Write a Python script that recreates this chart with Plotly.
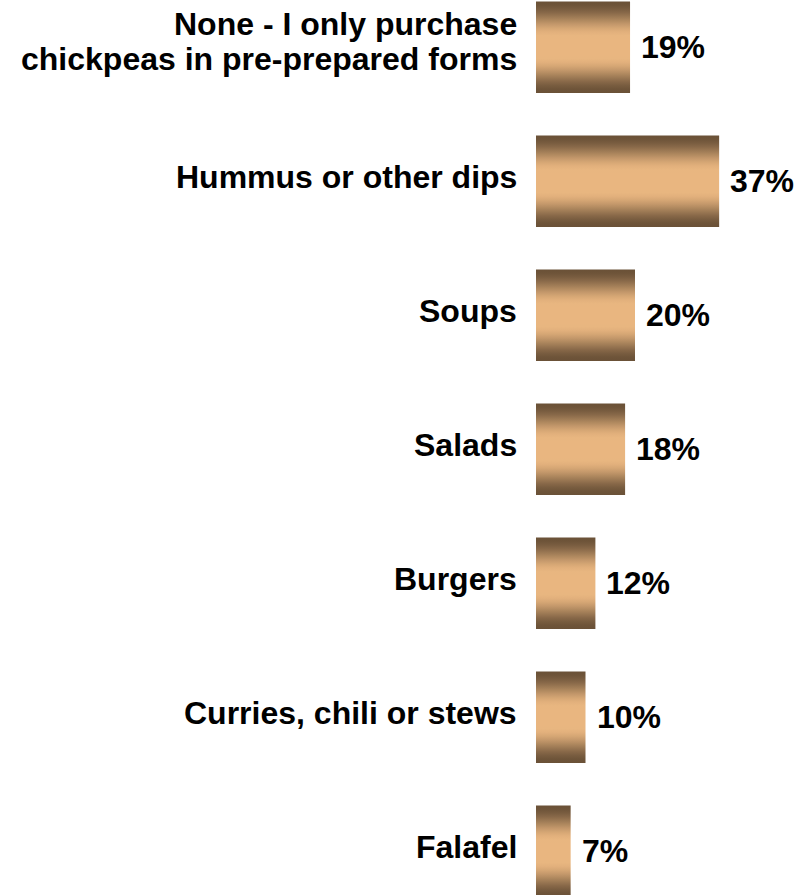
import plotly.graph_objects as go

categories = [
    ["None - I only purchase", "chickpeas in pre-prepared forms"],
    ["Hummus or other dips"],
    ["Soups"],
    ["Salads"],
    ["Burgers"],
    ["Curries, chili or stews"],
    ["Falafel"],
]
values = [19, 37, 20, 18, 12, 10, 7]
value_labels = ["19%", "37%", "20%", "18%", "12%", "10%", "7%"]

DARK = (106, 81, 55)
LIGHT = (233, 182, 128)
BAR_WIDTH = 0.683
FONT = "Liberation Sans, Arial, sans-serif"
FS = 32

positions = list(range(len(categories)))


def bevel_scale(steps=12, plateau=0.78):
    """Vertical colorscale: dark at both edges, light across the middle."""
    stops = []
    for i in range(steps + 1):
        frac = i / steps                     # distance from edge, 0..1 of half
        t = min(1.0, frac / plateau)
        t = t * t * (3 - 2 * t)
        col = "rgb(%d,%d,%d)" % tuple(round(d + (l - d) * t) for d, l in zip(DARK, LIGHT))
        stops.append((frac / 2, col))
    stops += [(1 - p, c) for p, c in reversed(stops[:-1])]
    return [[p, c] for p, c in stops]


SCALE = bevel_scale()

fig = go.Figure()

# each bar is a filled rectangle spanning 0..value with a vertical bevel gradient
for pos, val in zip(positions, values):
    lo, hi = pos - BAR_WIDTH / 2, pos + BAR_WIDTH / 2
    fig.add_trace(go.Scatter(
        x=[0, val, val, 0, 0],
        y=[lo, lo, hi, hi, lo],
        mode="lines",
        line=dict(width=0, color="rgba(0,0,0,0)"),
        fill="toself",
        fillgradient=dict(type="vertical", colorscale=SCALE, start=lo, stop=hi),
        hoverinfo="skip",
        showlegend=False,
    ))

text_font = dict(family=FONT, size=FS, color="black", weight="bold")

# value labels to the right of each bar
for pos, val, lab in zip(positions, values, value_labels):
    fig.add_annotation(
        x=val, y=pos, text=lab, showarrow=False,
        xanchor="left", yanchor="middle", xshift=9, yshift=0,
        font=text_font,
    )

# category labels, right-aligned against the bars, tight line spacing
LINE_GAP = 35
for pos, lines in zip(positions, categories):
    n = len(lines)
    for i, line in enumerate(lines):
        off = (i - (n - 1) / 2) * LINE_GAP
        fig.add_annotation(
            x=0, xref="paper", y=pos, text=line, showarrow=False,
            xanchor="right", yanchor="middle", align="right",
            xshift=-17, yshift=4 - off + (1.5 if n > 1 else 0),
            font=text_font,
        )

fig.update_layout(
    width=807, height=895,
    margin=dict(l=536, r=0, t=0, b=0),
    paper_bgcolor="white",
    plot_bgcolor="white",
    font=text_font,
    xaxis=dict(range=[0, (807 - 536) / 4.95], visible=False, fixedrange=True),
    yaxis=dict(
        range=[6.327, -0.352],
        visible=False,
        fixedrange=True,
    ),
)

fig.write_html("out.html")
